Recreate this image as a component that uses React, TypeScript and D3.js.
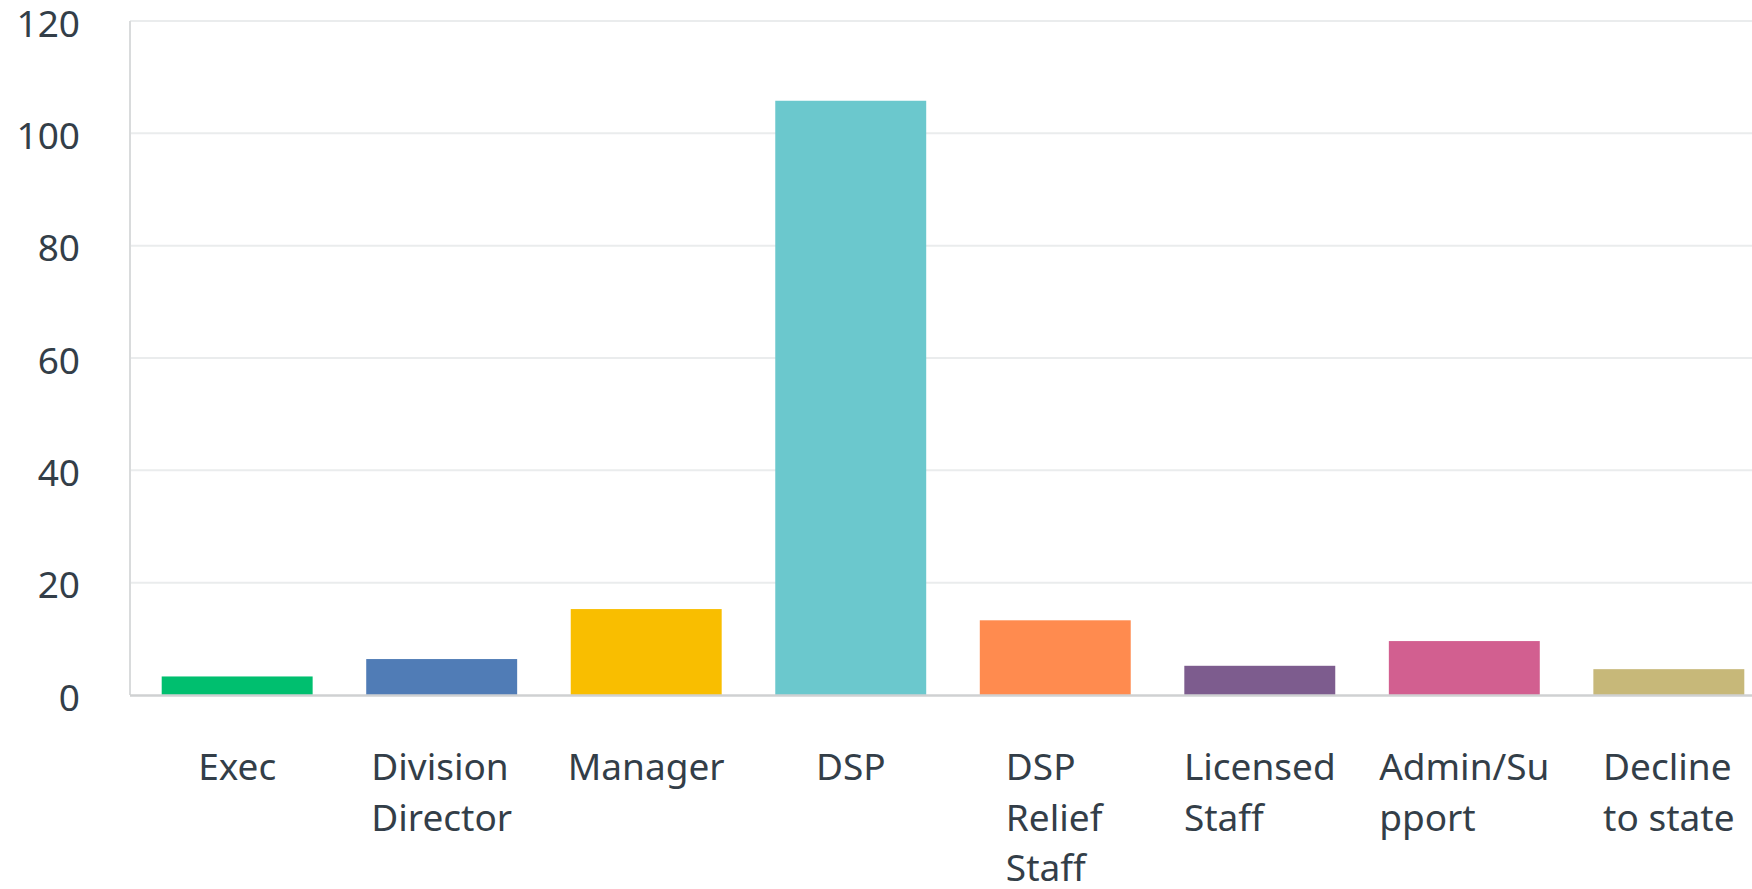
import React, { useEffect, useRef } from 'react';
import * as d3 from 'd3';

const categories = ['Exec', 'Division Director', 'Manager', 'DSP', 'DSP Relief Staff', 'Licensed Staff', 'Admin/Support', 'Decline to state'];
const values = [3.3, 6.4, 15.3, 105.8, 13.3, 5.2, 9.6, 4.6];
const labelLines = [
  ['Exec'],
  ['Division', 'Director'],
  ['Manager'],
  ['DSP'],
  ['DSP', 'Relief', 'Staff'],
  ['Licensed', 'Staff'],
  ['Admin/Su', 'pport'],
  ['Decline', 'to state'],
];
const colors = ['#00bf6f', '#507cb6', '#f9be00', '#6bc8cd', '#ff8b4f', '#7d5c8e', '#d25f90', '#c7b879'];
const yTicks = [0, 20, 40, 60, 80, 100, 120];

const width = 1752,
      height = 889;

export default function App() {
  const ref = useRef<SVGSVGElement>(null);

  useEffect(() => {
    const svg = d3.select(ref.current);
    svg.selectAll('*').remove();

    const left = 130, top = 21, bottom = 695;

    const x = d3.scaleBand()
                .domain(categories)
                .range([left, 1776])
                .paddingInner(0.262)
                .paddingOuter(0.155);

    const y = d3.scaleLinear()
                .domain([0, 120])
                .range([bottom, top]);

    const font = '"Noto Sans", sans-serif';

    // grid
    svg.append('g')
       .selectAll('line')
       .data(yTicks.filter(d => d > 0))
       .join('line')
       .attr('x1', left)
       .attr('x2', width)
       .attr('y1', d => y(d))
       .attr('y2', d => y(d))
       .attr('stroke', '#eaeced')
       .attr('stroke-width', 2);

    // y axis line
    svg.append('line')
       .attr('x1', left).attr('x2', left)
       .attr('y1', top).attr('y2', bottom)
       .attr('stroke', '#d9dbdc')
       .attr('stroke-width', 2);

    // bars
    svg.append('g')
       .selectAll('rect')
       .data(values)
       .join('rect')
       .attr('x', (d, i) => x(categories[i]))
       .attr('width', x.bandwidth())
       .attr('y', d => y(d))
       .attr('height', d => y(0) - y(d))
       .attr('fill', (d, i) => colors[i]);

    // baseline
    svg.append('line')
       .attr('x1', left).attr('x2', width)
       .attr('y1', y(0) + 0.5).attr('y2', y(0) + 0.5)
       .attr('stroke', '#cfd1d2')
       .attr('stroke-width', 2.5);

    // y tick labels
    svg.append('g')
       .selectAll('text')
       .data(yTicks)
       .join('text')
       .attr('x', 80)
       .attr('y', d => y(d) + 2.5)
       .attr('dy', '0.36em')
       .attr('text-anchor', 'end')
       .attr('font-family', font)
       .attr('font-size', 37)
       .attr('fill', '#333e48')
       .text(d => d);

    // x labels: lines left aligned, block centred under the bar
    categories.forEach((c, i) => {
      const g = svg.append('g');
      const t = g.append('text')
                 .attr('font-family', font)
                 .attr('font-size', 37)
                 .attr('fill', '#333e48');
      labelLines[i].forEach((line, j) => {
        t.append('tspan')
         .attr('x', 0)
         .attr('y', 780 + j * 50.5)
         .text(line);
      });
      const w = (t.node() as SVGTextElement).getBBox().width;
      const cx = x(c) + x.bandwidth() / 2;
      g.attr('transform', `translate(${cx - w / 2},0)`);
    });
  }, []);

  return (
    <svg ref={ref} width={width} height={height}
         style={{ position: 'absolute', left: 0, top: 0, background: '#fff' }} />
  );
}
